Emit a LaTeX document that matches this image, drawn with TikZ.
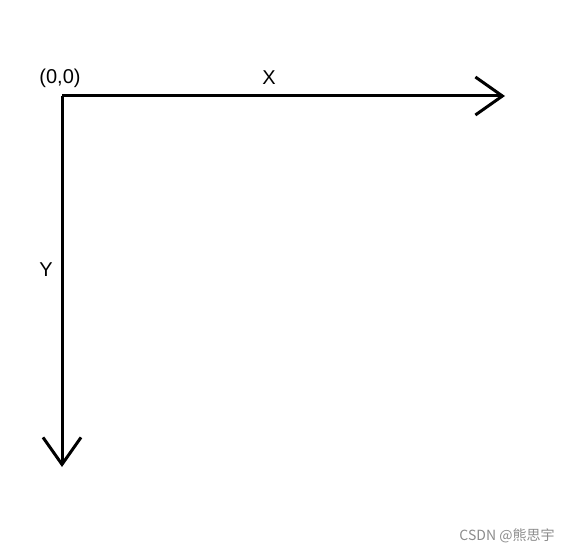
\documentclass[tikz,border=0pt]{standalone}
\usepackage{fontspec}
\setmainfont{Liberation Sans}
\newfontfamily\cjk{Noto Sans CJK SC}
\usetikzlibrary{arrows.meta, positioning}
\definecolor{axisBlack}{gray}{0.0}
\definecolor{markGray}{gray}{0.55}

\begin{document}
\begin{tikzpicture}[x=1pt, y=-1pt, >={Straight Barb[length=27pt, width=38pt]}]
    \useasboundingbox (0,0) rectangle (572,553);

    % Axes
    \coordinate (O) at (62,96);
    \coordinate (xend) at (505,96);
    \coordinate (yend) at (62,467);
    \draw[->, line width=3pt, axisBlack] (O) -- (xend);
    \draw[->, line width=3pt, axisBlack] (O) -- (yend);

    % Labels
    \node[font=\fontsize{20}{22}\selectfont] (origin) at (60,78) {(0,0)};
    \node[font=\fontsize{20}{22}\selectfont] (xlabel) at (269,78) {X};
    \node[font=\fontsize{20}{22}\selectfont] (ylabel) at (46,270) {Y};

    \node[font=\cjk\fontsize{14}{16}\selectfont, markGray] (mark) at (507,536) {CSDN @熊思宇};
\end{tikzpicture}
\end{document}
